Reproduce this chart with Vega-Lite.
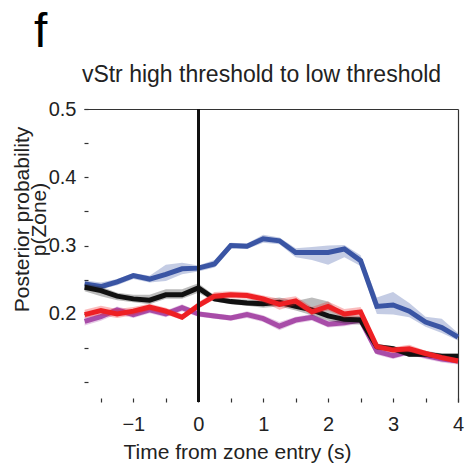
{
  "$schema": "https://vega.github.io/schema/vega-lite/v6.json",
  "width": 374,
  "height": 293,
  "autosize": {"type": "none"},
  "padding": {"left": 84, "top": 109, "right": 7, "bottom": 64},
  "background": "white",
  "config": {
    "font": "Liberation Sans",
    "view": {"stroke": null},
    "axis": {"grid": false, "domainColor": "#333", "tickColor": "#333", "labelColor": "#222", "titleColor": "#222", "labelFont": "Liberation Sans", "titleFont": "Liberation Sans", "titleFontWeight": "normal", "labelFontSize": 20, "titleFontSize": 21, "domainWidth": 1.2, "tickWidth": 1.2}
  },
  "title": {"text": "f", "fontSize": 48, "fontWeight": "normal", "font": "Liberation Sans", "color": "#000", "anchor": "start", "frame": "group", "offset": 6, "dx": -50},
  "resolve": {"axis": {"x": "independent", "y": "independent"}},
  "data": {"values": [
    {"t": -1.75, "s": "blue", "y": 0.244, "lo": 0.238, "hi": 0.249},
    {"t": -1.5, "s": "blue", "y": 0.240, "lo": 0.236, "hi": 0.246},
    {"t": -1.25, "s": "blue", "y": 0.247, "lo": 0.242, "hi": 0.251},
    {"t": -1.0, "s": "blue", "y": 0.256, "lo": 0.251, "hi": 0.260},
    {"t": -0.75, "s": "blue", "y": 0.251, "lo": 0.246, "hi": 0.256},
    {"t": -0.5, "s": "blue", "y": 0.258, "lo": 0.248, "hi": 0.272},
    {"t": -0.25, "s": "blue", "y": 0.266, "lo": 0.258, "hi": 0.275},
    {"t": 0.0, "s": "blue", "y": 0.267, "lo": 0.262, "hi": 0.271},
    {"t": 0.25, "s": "blue", "y": 0.273, "lo": 0.268, "hi": 0.279},
    {"t": 0.5, "s": "blue", "y": 0.300, "lo": 0.296, "hi": 0.304},
    {"t": 0.75, "s": "blue", "y": 0.299, "lo": 0.295, "hi": 0.303},
    {"t": 1.0, "s": "blue", "y": 0.310, "lo": 0.304, "hi": 0.316},
    {"t": 1.25, "s": "blue", "y": 0.307, "lo": 0.302, "hi": 0.312},
    {"t": 1.5, "s": "blue", "y": 0.290, "lo": 0.283, "hi": 0.296},
    {"t": 1.75, "s": "blue", "y": 0.290, "lo": 0.279, "hi": 0.298},
    {"t": 2.0, "s": "blue", "y": 0.290, "lo": 0.272, "hi": 0.300},
    {"t": 2.25, "s": "blue", "y": 0.295, "lo": 0.283, "hi": 0.301},
    {"t": 2.5, "s": "blue", "y": 0.278, "lo": 0.270, "hi": 0.286},
    {"t": 2.75, "s": "blue", "y": 0.211, "lo": 0.200, "hi": 0.224},
    {"t": 3.0, "s": "blue", "y": 0.213, "lo": 0.199, "hi": 0.232},
    {"t": 3.25, "s": "blue", "y": 0.204, "lo": 0.195, "hi": 0.216},
    {"t": 3.5, "s": "blue", "y": 0.188, "lo": 0.181, "hi": 0.196},
    {"t": 3.75, "s": "blue", "y": 0.180, "lo": 0.172, "hi": 0.193},
    {"t": 4.0, "s": "blue", "y": 0.166, "lo": 0.161, "hi": 0.172},

    {"t": -1.75, "s": "black", "y": 0.239, "lo": 0.233, "hi": 0.244},
    {"t": -1.5, "s": "black", "y": 0.234, "lo": 0.226, "hi": 0.240},
    {"t": -1.25, "s": "black", "y": 0.226, "lo": 0.220, "hi": 0.231},
    {"t": -1.0, "s": "black", "y": 0.222, "lo": 0.217, "hi": 0.228},
    {"t": -0.75, "s": "black", "y": 0.220, "lo": 0.214, "hi": 0.228},
    {"t": -0.5, "s": "black", "y": 0.228, "lo": 0.222, "hi": 0.236},
    {"t": -0.25, "s": "black", "y": 0.228, "lo": 0.222, "hi": 0.236},
    {"t": 0.0, "s": "black", "y": 0.238, "lo": 0.231, "hi": 0.245},
    {"t": 0.25, "s": "black", "y": 0.222, "lo": 0.218, "hi": 0.227},
    {"t": 0.5, "s": "black", "y": 0.218, "lo": 0.214, "hi": 0.222},
    {"t": 0.75, "s": "black", "y": 0.216, "lo": 0.212, "hi": 0.221},
    {"t": 1.0, "s": "black", "y": 0.215, "lo": 0.209, "hi": 0.221},
    {"t": 1.25, "s": "black", "y": 0.217, "lo": 0.211, "hi": 0.224},
    {"t": 1.5, "s": "black", "y": 0.211, "lo": 0.205, "hi": 0.219},
    {"t": 1.75, "s": "black", "y": 0.206, "lo": 0.198, "hi": 0.224},
    {"t": 2.0, "s": "black", "y": 0.197, "lo": 0.190, "hi": 0.218},
    {"t": 2.25, "s": "black", "y": 0.192, "lo": 0.186, "hi": 0.199},
    {"t": 2.5, "s": "black", "y": 0.191, "lo": 0.184, "hi": 0.197},
    {"t": 2.75, "s": "black", "y": 0.152, "lo": 0.148, "hi": 0.156},
    {"t": 3.0, "s": "black", "y": 0.149, "lo": 0.145, "hi": 0.153},
    {"t": 3.25, "s": "black", "y": 0.141, "lo": 0.137, "hi": 0.145},
    {"t": 3.5, "s": "black", "y": 0.141, "lo": 0.137, "hi": 0.146},
    {"t": 3.75, "s": "black", "y": 0.138, "lo": 0.134, "hi": 0.142},
    {"t": 4.0, "s": "black", "y": 0.138, "lo": 0.134, "hi": 0.142},

    {"t": -1.75, "s": "red", "y": 0.199, "lo": 0.194, "hi": 0.206},
    {"t": -1.5, "s": "red", "y": 0.205, "lo": 0.198, "hi": 0.212},
    {"t": -1.25, "s": "red", "y": 0.200, "lo": 0.194, "hi": 0.207},
    {"t": -1.0, "s": "red", "y": 0.204, "lo": 0.198, "hi": 0.210},
    {"t": -0.75, "s": "red", "y": 0.210, "lo": 0.205, "hi": 0.215},
    {"t": -0.5, "s": "red", "y": 0.204, "lo": 0.199, "hi": 0.209},
    {"t": -0.25, "s": "red", "y": 0.195, "lo": 0.191, "hi": 0.200},
    {"t": 0.0, "s": "red", "y": 0.212, "lo": 0.208, "hi": 0.217},
    {"t": 0.25, "s": "red", "y": 0.226, "lo": 0.221, "hi": 0.232},
    {"t": 0.5, "s": "red", "y": 0.228, "lo": 0.223, "hi": 0.233},
    {"t": 0.75, "s": "red", "y": 0.227, "lo": 0.222, "hi": 0.232},
    {"t": 1.0, "s": "red", "y": 0.222, "lo": 0.217, "hi": 0.227},
    {"t": 1.25, "s": "red", "y": 0.214, "lo": 0.206, "hi": 0.222},
    {"t": 1.5, "s": "red", "y": 0.219, "lo": 0.213, "hi": 0.226},
    {"t": 1.75, "s": "red", "y": 0.203, "lo": 0.198, "hi": 0.210},
    {"t": 2.0, "s": "red", "y": 0.211, "lo": 0.205, "hi": 0.218},
    {"t": 2.25, "s": "red", "y": 0.200, "lo": 0.194, "hi": 0.207},
    {"t": 2.5, "s": "red", "y": 0.203, "lo": 0.196, "hi": 0.210},
    {"t": 2.75, "s": "red", "y": 0.152, "lo": 0.148, "hi": 0.157},
    {"t": 3.0, "s": "red", "y": 0.147, "lo": 0.143, "hi": 0.151},
    {"t": 3.25, "s": "red", "y": 0.149, "lo": 0.144, "hi": 0.155},
    {"t": 3.5, "s": "red", "y": 0.142, "lo": 0.138, "hi": 0.146},
    {"t": 3.75, "s": "red", "y": 0.136, "lo": 0.132, "hi": 0.140},
    {"t": 4.0, "s": "red", "y": 0.131, "lo": 0.127, "hi": 0.135},

    {"t": -1.75, "s": "magenta", "y": 0.189, "lo": 0.183, "hi": 0.195},
    {"t": -1.5, "s": "magenta", "y": 0.196, "lo": 0.190, "hi": 0.201},
    {"t": -1.25, "s": "magenta", "y": 0.206, "lo": 0.200, "hi": 0.211},
    {"t": -1.0, "s": "magenta", "y": 0.199, "lo": 0.194, "hi": 0.205},
    {"t": -0.75, "s": "magenta", "y": 0.206, "lo": 0.201, "hi": 0.211},
    {"t": -0.5, "s": "magenta", "y": 0.200, "lo": 0.195, "hi": 0.205},
    {"t": -0.25, "s": "magenta", "y": 0.209, "lo": 0.204, "hi": 0.214},
    {"t": 0.0, "s": "magenta", "y": 0.200, "lo": 0.196, "hi": 0.204},
    {"t": 0.25, "s": "magenta", "y": 0.197, "lo": 0.193, "hi": 0.201},
    {"t": 0.5, "s": "magenta", "y": 0.194, "lo": 0.190, "hi": 0.198},
    {"t": 0.75, "s": "magenta", "y": 0.199, "lo": 0.194, "hi": 0.204},
    {"t": 1.0, "s": "magenta", "y": 0.193, "lo": 0.188, "hi": 0.198},
    {"t": 1.25, "s": "magenta", "y": 0.182, "lo": 0.176, "hi": 0.188},
    {"t": 1.5, "s": "magenta", "y": 0.191, "lo": 0.186, "hi": 0.196},
    {"t": 1.75, "s": "magenta", "y": 0.195, "lo": 0.190, "hi": 0.200},
    {"t": 2.0, "s": "magenta", "y": 0.185, "lo": 0.180, "hi": 0.190},
    {"t": 2.25, "s": "magenta", "y": 0.187, "lo": 0.182, "hi": 0.192},
    {"t": 2.5, "s": "magenta", "y": 0.191, "lo": 0.186, "hi": 0.196},
    {"t": 2.75, "s": "magenta", "y": 0.145, "lo": 0.140, "hi": 0.150},
    {"t": 3.0, "s": "magenta", "y": 0.139, "lo": 0.134, "hi": 0.144},
    {"t": 3.25, "s": "magenta", "y": 0.145, "lo": 0.140, "hi": 0.150},
    {"t": 3.5, "s": "magenta", "y": 0.139, "lo": 0.134, "hi": 0.144},
    {"t": 3.75, "s": "magenta", "y": 0.134, "lo": 0.129, "hi": 0.139},
    {"t": 4.0, "s": "magenta", "y": 0.131, "lo": 0.126, "hi": 0.136}
  ]},
  "encoding": {
    "x": {"field": "t", "type": "quantitative", "scale": {"domain": [-1.76, 4], "nice": false, "zero": false}, "axis": null}
  },
  "layer": [
    {"transform": [{"filter": "datum.s === 'blue'"}], "mark": {"type": "area", "color": "#3a55a4", "opacity": 0.3},
     "encoding": {
       "x": {"field": "t", "type": "quantitative", "axis": {"title": "Time from zone entry (s)", "values": [-1.5, -1, -0.5, 0, 0.5, 1, 1.5, 2, 2.5, 3, 3.5, 4], "labelExpr": "datum.value % 1 === 0 ? format(datum.value, 'd') : ''", "offset": -4, "domain": false, "tickSize": 4, "labelPadding": 12, "titlePadding": 7, "titleX": 153, "labelFlush": false, "labelOverlap": false}},
       "y": {"field": "lo", "type": "quantitative", "scale": {"domain": [0.071, 0.5], "nice": false, "zero": false},
       "axis": {"title": ["Posterior probability", "p(Zone)"], "values": [0.1, 0.15, 0.2, 0.25, 0.3, 0.35, 0.4, 0.45, 0.5], "labelExpr": "(datum.value > 0.19 && round(datum.value * 100) % 10 === 0) ? format(datum.value, '.1f') : ''", "offset": -4, "domain": false, "tickSize": 4, "labelPadding": 8, "titleAngle": -90, "titleAlign": "center", "titleBaseline": "top", "titleX": -77, "titleY": 110, "titleLineHeight": 17, "labelOverlap": false, "labelFlush": false}},
       "y2": {"field": "hi"}}},
    {"transform": [{"filter": "datum.s === 'blue'"}], "mark": {"type": "line", "color": "#3a55a4", "strokeWidth": 5, "strokeJoin": "miter"},
     "encoding": {
       "x": {"field": "t", "type": "quantitative", "axis": {"title": null, "labels": false, "ticks": false, "domain": true}},
       "y": {"field": "y", "type": "quantitative", "axis": {"title": null, "labels": false, "ticks": false, "domain": true}}}},
    {"transform": [{"filter": "datum.s === 'magenta'"}], "mark": {"type": "area", "color": "#a84ca8", "opacity": 0.3},
     "encoding": {"y": {"field": "lo", "type": "quantitative", "axis": null}, "y2": {"field": "hi"}}},
    {"transform": [{"filter": "datum.s === 'magenta'"}], "mark": {"type": "line", "color": "#a84ca8", "strokeWidth": 5, "strokeJoin": "miter"},
     "encoding": {"y": {"field": "y", "type": "quantitative", "axis": null}}},
    {"transform": [{"filter": "datum.s === 'black'"}], "mark": {"type": "area", "color": "#222222", "opacity": 0.3},
     "encoding": {"y": {"field": "lo", "type": "quantitative", "axis": null}, "y2": {"field": "hi"}}},
    {"transform": [{"filter": "datum.s === 'black'"}], "mark": {"type": "line", "color": "#111111", "strokeWidth": 5, "strokeJoin": "miter"},
     "encoding": {"y": {"field": "y", "type": "quantitative", "axis": null}}},
    {"transform": [{"filter": "datum.s === 'red'"}], "mark": {"type": "area", "color": "#ee2024", "opacity": 0.3},
     "encoding": {"y": {"field": "lo", "type": "quantitative", "axis": null}, "y2": {"field": "hi"}}},
    {"transform": [{"filter": "datum.s === 'red'"}], "mark": {"type": "line", "color": "#ee2024", "strokeWidth": 5, "strokeJoin": "miter"},
     "encoding": {"y": {"field": "y", "type": "quantitative", "axis": null}}},
    {"mark": {"type": "rule", "color": "#111111", "strokeWidth": 2.5},
     "encoding": {"x": {"datum": 0, "type": "quantitative", "axis": {"orient": "top", "title": "vStr high threshold to low threshold", "domain": false, "ticks": false, "labels": false, "titleFontSize": 23, "titlePadding": 23, "titleX": 177}}}}
  ]
}
